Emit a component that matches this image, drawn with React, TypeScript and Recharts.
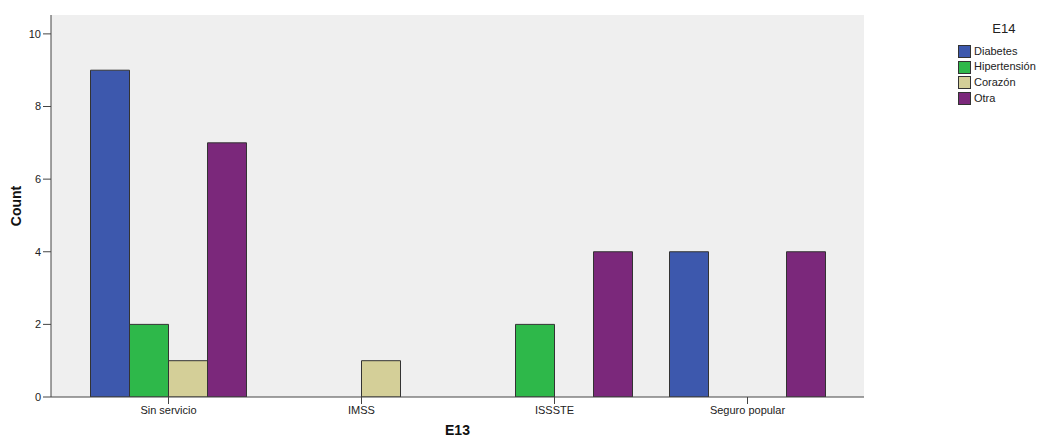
import React from "react";
import { BarChart, Bar, XAxis, YAxis, CartesianGrid } from "recharts";

const categories = ["Sin servicio", "IMSS", "ISSSTE", "Seguro popular"];
const diabetes = [9, null, null, 4];
const hipertension = [2, null, 2, null];
const corazon = [1, 1, null, null];
const otra = [7, null, 4, 4];
const yTicks = [0, 2, 4, 6, 8, 10];

const SERIES = [
  { key: "Diabetes", values: diabetes, color: "#3d58ad" },
  { key: "Hipertensión", values: hipertension, color: "#2eb84a" },
  { key: "Corazón", values: corazon, color: "#d4cf98" },
  { key: "Otra", values: otra, color: "#7b287b" },
];

const data = categories.map((name, i) => {
  const row: Record<string, string | number | null> = { name };
  SERIES.forEach((s) => (row[s.key] = s.values[i]));
  return row;
});

const FONT = "'Liberation Sans', Arial, sans-serif";

// SPSS style legend box on the right
const SpssLegend = () => (
  <div
    style={{
      position: "absolute",
      left: 958,
      top: 21,
      fontFamily: FONT,
      fontSize: 11,
      color: "#222",
      lineHeight: "15.7px",
    }}
  >
    <div style={{ fontSize: 13, textAlign: "center", marginBottom: 7, paddingLeft: 14 }}>E14</div>
    {SERIES.map((s) => (
      <div key={s.key} style={{ display: "flex", alignItems: "center" }}>
        <span
          style={{
            width: 11,
            height: 11,
            background: s.color,
            border: "1px solid #333",
            marginRight: 3,
            display: "inline-block",
          }}
        />
        <span>{s.key}</span>
      </div>
    ))}
  </div>
);

export default function App() {
  return (
    <div style={{ position: "absolute", left: 0, top: 0, width: 1040, height: 438, background: "#fff" }}>
      <BarChart
        width={1040}
        height={438}
        data={data}
        margin={{ top: 15, right: 176, left: 0, bottom: 0 }}
        barGap={0}
        barCategoryGap={18.5}
      >
        <CartesianGrid fill="#efefef" horizontal={false} vertical={false} />
        <XAxis
          dataKey="name"
          height={41}
          padding={{ left: 21, right: 20 }}
          tickSize={7}
          stroke="#444"
          tick={{ fontFamily: FONT, fontSize: 11, fill: "#222" }}
          label={{
            value: "E13",
            position: "insideBottom",
            offset: 3,
            style: { fontFamily: FONT, fontSize: 14, fontWeight: "bold", fill: "#111" },
          }}
        />
        <XAxis xAxisId="top" orientation="top" height={0} tick={false} tickLine={false} stroke="#444" />
        <YAxis
          width={51}
          domain={[0, 10.52]}
          ticks={yTicks}
          allowDataOverflow
          tickSize={8}
          tickMargin={2}
          stroke="#444"
          tick={{ fontFamily: FONT, fontSize: 11, fill: "#222" }}
          label={{
            value: "Count",
            angle: -90,
            position: "insideLeft",
            offset: 16,
            style: { fontFamily: FONT, fontSize: 14, fontWeight: "bold", fill: "#111", textAnchor: "middle" },
          }}
        />
        <YAxis yAxisId="right" orientation="right" width={0} tick={false} tickLine={false} stroke="#444" />
        {SERIES.map((s) => (
          <Bar
            key={s.key}
            dataKey={s.key}
            fill={s.color}
            stroke="#333"
            strokeWidth={1}
            isAnimationActive={false}
          />
        ))}
      </BarChart>
      <SpssLegend />
    </div>
  );
}
